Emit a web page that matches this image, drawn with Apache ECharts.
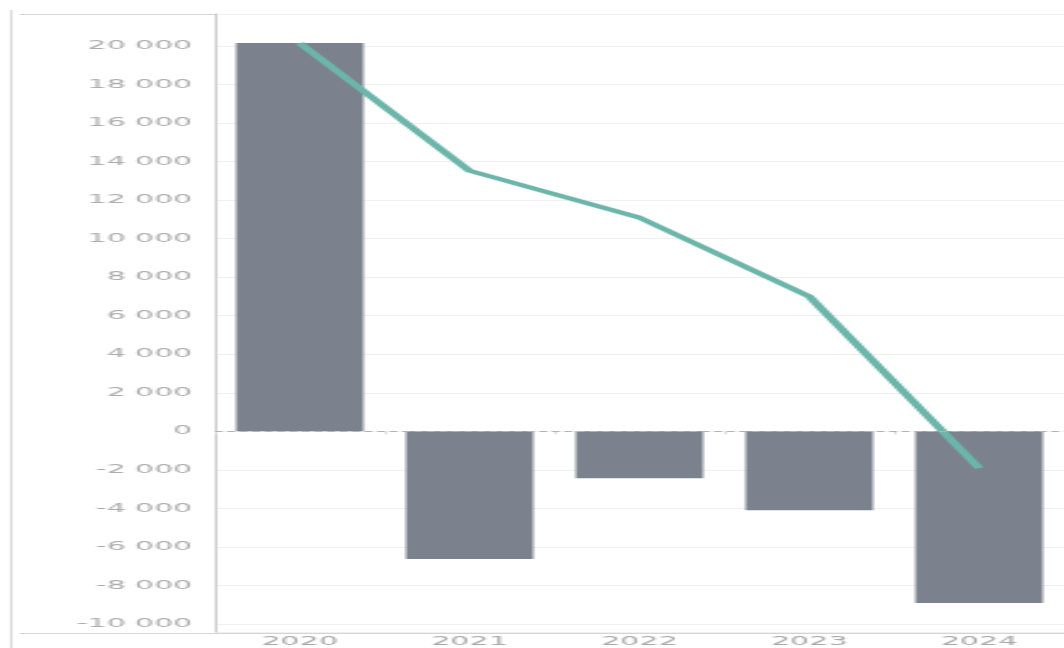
<!DOCTYPE html>
<html>
<head>
<meta charset="utf-8">
<script src="https://cdn.jsdelivr.net/npm/echarts@6/dist/echarts.min.js"></script>
<style>
  html, body { margin: 0; padding: 0; background: #fff; overflow: hidden; }
  #outer { width: 1064px; height: 648px; position: relative; overflow: hidden; }
  #chart { width: 426px; height: 648px; transform: scaleX(2.4977); transform-origin: 0 0; }
</style>
</head>
<body>
<div id="outer"><div id="chart"></div></div>
<script>
const categories = ['2020', '2021', '2022', '2023', '2024'];
const barValues = [20150, -6630, -2430, -4090, -8910];
const lineValues = [20150, 13520, 11090, 7000, -1910];

const chart = echarts.init(document.getElementById('chart'), null, { renderer: 'canvas' });

function fmt(v) {
  const s = Math.abs(v).toString().replace(/\B(?=(\d{3})+(?!\d))/g, ' ');
  return (v < 0 ? '-' : '') + s;
}

chart.setOption({
  animation: false,
  backgroundColor: '#ffffff',
  grid: { left: 86, right: 0, top: 14, bottom: 15 },
  xAxis: {
    type: 'category',
    data: categories,
    axisLine: { show: false },
    axisTick: { show: true, length: 3, lineStyle: { color: '#dddddd' } },
    axisLabel: { color: '#a8a8a8', fontFamily: 'DejaVu Sans', fontSize: 12, margin: 4 }
  },
  yAxis: {
    type: 'value',
    min: -10415,
    max: 21658,
    splitNumber: 15,
    axisLine: { show: true, lineStyle: { color: '#cccccc', width: 1 } },
    axisTick: { show: false },
    axisLabel: {
      color: '#acacac', fontFamily: 'DejaVu Sans', fontSize: 12, margin: 9,
      showMinLabel: false, showMaxLabel: false,
      formatter: fmt
    },
    splitLine: { show: true, lineStyle: { color: '#f0f0f0', width: 1 } }
  },
  graphic: [
    { type: 'line', shape: { x1: 4.5, y1: 10, x2: 4.5, y2: 648 }, style: { stroke: '#dcdcdc', lineWidth: 1 }, silent: true },
    { type: 'line', shape: { x1: 8, y1: 14.5, x2: 426, y2: 14.5 }, style: { stroke: '#d4d4d4', lineWidth: 1 }, silent: true },
    { type: 'line', shape: { x1: 8, y1: 633.5, x2: 426, y2: 633.5 }, style: { stroke: '#d4d4d4', lineWidth: 1 }, silent: true }
  ],
  series: [
    {
      type: 'bar',
      data: barValues,
      barCategoryGap: '25%',
      itemStyle: { color: '#7c828d' },
      markLine: {
        silent: true,
        symbol: ['none', 'none'],
        label: { show: false },
        lineStyle: { color: '#b4b4b4', type: [3, 2], width: 1 },
        data: [{ yAxis: 0 }]
      },
      z: 2
    },
    {
      type: 'line',
      data: lineValues,
      showSymbol: false,
      symbol: 'none',
      lineStyle: { color: '#6cb5aa', width: 3.8 },
      itemStyle: { color: '#6cb5aa' },
      z: 3
    }
  ]
});
</script>
</body>
</html>
